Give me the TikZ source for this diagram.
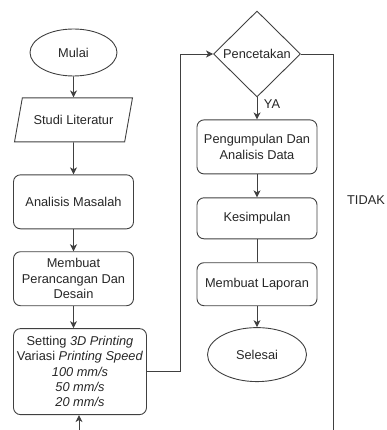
\documentclass[tikz,border=0pt]{standalone}
\usepackage{fontspec}
\setmainfont{Liberation Sans}
\usepackage{tikz}
\usetikzlibrary{positioning,shapes.geometric,arrows.meta}
\tikzset{
  garis/.style={draw=black!75, line width=0.9pt},
  panah/.style={garis, -{Stealth[length=7pt,width=7pt,inset=2pt]}},
  teks/.style={text=black!85, font=\fontsize{12.8}{15.3}\selectfont},
  terminal/.style={ellipse, draw=black!75, line width=0.9pt, teks, inner sep=0pt},
  proses/.style={rectangle, rounded corners=7pt, draw=black!75, line width=0.9pt, teks,
    align=center, minimum width=120pt, inner sep=1pt},
  masukan/.style={trapezium, trapezium left angle=57, trapezium right angle=123,
    trapezium stretches=true, draw=black!75, line width=0.9pt, teks,
    minimum width=119pt, minimum height=44pt, inner sep=0pt},
  keputusan/.style={diamond, draw=black!75, line width=0.9pt, teks, aspect=1,
    minimum width=87pt, minimum height=86pt, inner sep=0pt},
}

\begin{document}
\begin{tikzpicture}[x=1pt,y=1pt]
        \useasboundingbox (0,0) rectangle (387,-430);
        % Kolom kiri
        \node[terminal, minimum width=87pt, minimum height=47pt] (mulai) at (73.5,-52.5) {Mulai};
        \node[masukan] [below = 21pt of mulai] (studi) {Studi Literatur};
        \node[proses, minimum height=54pt] [below = 32pt of studi] (analisis) {Analisis Masalah};
        \node[proses, minimum height=54pt] [below = 22pt of analisis] (rancang) {Membuat\\Perancangan Dan\\Desain};
        \node[proses, minimum width=133pt, minimum height=86pt] [below = 22pt of rancang, xshift=6.5pt] (setting)
          {Setting \textit{3D Printing}\\Variasi \textit{Printing Speed}\\\textit{100 mm/s}\\\textit{50 mm/s}\\\textit{20 mm/s}};
        % Kolom kanan
        \node[keputusan] (cetak) at (257,-54) {Pencetakan};
        \node[proses, minimum height=54pt] [below = 22pt of cetak] (data) {Pengumpulan Dan\\Analisis Data};
        \node[proses, minimum height=41pt] [below = 23pt of data] (simpul) {Kesimpulan};
        \node[proses, minimum height=43pt] [below = 23pt of simpul] (laporan) {Membuat Laporan};
        \node[terminal, minimum width=99pt, minimum height=54pt] [below = 21pt of laporan] (selesai) {Selesai};
        % Label
        \node[teks] (ya) at (272,-104) {YA};
        \node[teks] (tidak) at (366,-200) {TIDAK};
        \coordinate (ujungtidak) at (333,-430);
        \coordinate (ujungbawah) at (79,-430);
        % Garis
        \draw[panah] (mulai) -- (studi);
        \draw[panah] (studi) -- (analisis);
        \draw[panah] (analisis) -- (rancang);
        \draw[panah] (rancang.south) -- (rancang.south |- setting.north);
        \draw[panah] (setting.east) -| ([xshift=-33pt]cetak.west) -- (cetak.west);
        \draw[panah] (cetak) -- (data);
        \draw[panah] (data) -- (simpul);
        \draw[garis] (simpul) -- (laporan);
        \draw[panah] (laporan) -- (selesai);
        \draw[garis] (cetak.east) -| (ujungtidak);
        \draw[panah] (ujungbawah) -- (ujungbawah |- setting.south);
    \end{tikzpicture}
\end{document}
